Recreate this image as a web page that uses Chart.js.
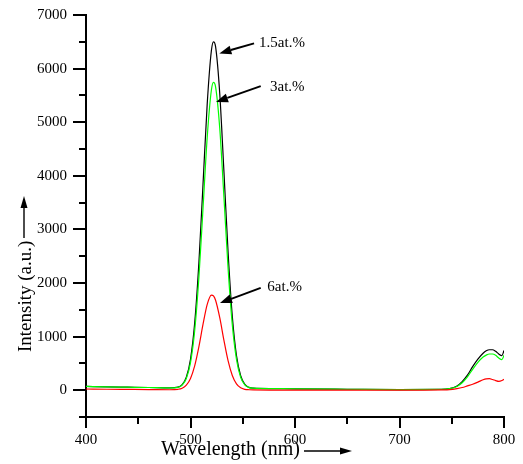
<!DOCTYPE html>
<html>
<head>
<meta charset="utf-8">
<script src="https://cdn.jsdelivr.net/npm/chart.js@4/dist/chart.umd.min.js"></script>
<style>
  html, body { margin: 0; padding: 0; background: #fff; }
  #wrap { width: 523px; height: 464px; position: relative; }
</style>
</head>
<body>
<div id="wrap"><canvas id="c" width="523" height="464"></canvas></div>
<script>
// ---- data ----
const wavelength = [400, 420, 440, 460, 480, 488, 492, 496, 500, 504, 508, 512, 516, 520, 522,
  524, 528, 532, 536, 540, 544, 548, 552, 556, 560, 580, 600, 650, 700, 740,
  748, 755, 760, 765, 770, 775, 780, 783, 786, 789, 792, 795, 798, 800];

const conc15 = [70, 62, 56, 50, 42, 56, 104, 242, 576, 1251, 2367, 3846, 5343, 6337, 6500,
  6410, 5530, 4074, 2560, 1380, 647, 269, 109, 52, 38, 30, 25, 18, 12, 15,
  30, 80, 160, 280, 440, 580, 690, 735, 755, 755, 725, 675, 645, 740];

const conc3 = [70, 62, 56, 50, 42, 54, 96, 218, 513, 1108, 2093, 3399, 4720, 5600, 5742,
  5660, 4884, 3599, 2264, 1223, 575, 241, 100, 49, 38, 30, 25, 18, 12, 15,
  28, 70, 140, 250, 390, 520, 620, 655, 675, 675, 650, 600, 570, 650];

const conc6 = [22, 18, 15, 12, 8, 17, 38, 94, 220, 454, 808, 1231, 1601, 1775, 1760,
  1679, 1352, 930, 546, 275, 118, 45, 16, 8, 5, 3, 2, 0, 0, 5,
  10, 30, 50, 80, 110, 150, 195, 212, 215, 200, 180, 165, 180, 205];

const seriesNames = ['1.5at.%', '3at.%', '6at.%'];
const xTickMin = 400, xTickMax = 800, xStep = 50, xLabelStep = 100;
const yTickMin = -500, yTickMax = 7000, yStep = 500, yLabelStep = 1000;

// annotation anchors (data units): label position, arrow start, arrow tip
const labelAt   = [[565.6, 6482], [576.1, 5659], [573.5, 1919]];
const arrowFrom = [[560.8, 6471], [567.2, 5672], [567.2, 1908]];
const arrowTo   = [[527.6, 6284], [524.4, 5379], [528.2, 1627]];

const xTitle = 'Wavelength (nm)';
const yTitle = 'Intensity (a.u.)';

// ---- chart ----
const SERIF = '"Liberation Serif", "Times New Roman", serif';
const pts = arr => wavelength.map((w, i) => ({ x: w, y: arr[i] }));

function arrow(ctx, x1, y1, x2, y2, head, half, lw) {
  const ang = Math.atan2(y2 - y1, x2 - x1);
  const bx = x2 - head * Math.cos(ang), by = y2 - head * Math.sin(ang);
  ctx.lineWidth = lw;
  ctx.beginPath(); ctx.moveTo(x1, y1); ctx.lineTo(bx, by); ctx.stroke();
  ctx.beginPath();
  ctx.moveTo(x2, y2);
  ctx.lineTo(bx + half * Math.sin(ang), by - half * Math.cos(ang));
  ctx.lineTo(bx - half * Math.sin(ang), by + half * Math.cos(ang));
  ctx.closePath(); ctx.fill();
}

const overlay = {
  id: 'overlay',
  afterDraw(chart) {
    const { ctx, scales: { x, y } } = chart;
    ctx.save();
    ctx.strokeStyle = '#000'; ctx.fillStyle = '#000'; ctx.lineWidth = 2;
    // tick marks
    y.ticks.forEach(t => {
      const py = Math.round(y.getPixelForValue(t.value));
      const len = t.value % yLabelStep === 0 ? 13 : 7;
      ctx.beginPath(); ctx.moveTo(y.right, py); ctx.lineTo(y.right - len, py); ctx.stroke();
    });
    x.ticks.forEach(t => {
      const px = Math.round(x.getPixelForValue(t.value));
      const len = t.value % xLabelStep === 0 ? 11 : 7;
      ctx.beginPath(); ctx.moveTo(px, x.top); ctx.lineTo(px, x.top + len); ctx.stroke();
    });
    // series annotations
    ctx.font = '15px ' + SERIF;
    ctx.textAlign = 'left'; ctx.textBaseline = 'middle';
    seriesNames.forEach((n, i) => {
      const lx = x.getPixelForValue(labelAt[i][0]), ly = y.getPixelForValue(labelAt[i][1]);
      ctx.fillText(n, lx, ly);
      arrow(ctx, x.getPixelForValue(arrowFrom[i][0]), y.getPixelForValue(arrowFrom[i][1]),
                 x.getPixelForValue(arrowTo[i][0]), y.getPixelForValue(arrowTo[i][1]), 12, 4.5, 2);
    });
    // axis titles with arrows
    ctx.font = '20px ' + SERIF;
    ctx.textAlign = 'right'; ctx.textBaseline = 'alphabetic';
    ctx.fillText(xTitle, 300, 455);
    arrow(ctx, 304, 451, 352, 451, 12, 3.5, 1.4);
    ctx.save();
    ctx.translate(31, 352); ctx.rotate(-Math.PI / 2);
    ctx.textAlign = 'left';
    ctx.font = '19px ' + SERIF;
    ctx.fillText(yTitle, 0, 0);
    ctx.restore();
    arrow(ctx, 24, 238, 24, 196, 12, 3.5, 1.4);
    ctx.restore();
  }
};

new Chart(document.getElementById('c'), {
  type: 'line',
  data: {
    datasets: [
      { label: seriesNames[0], data: pts(conc15), borderColor: '#000000', order: 3 },
      { label: seriesNames[1], data: pts(conc3), borderColor: '#00ff00', order: 2 },
      { label: seriesNames[2], data: pts(conc6), borderColor: '#ff0000', order: 1 }
    ]
  },
  options: {
    responsive: false,
    animation: false,
    events: [],
    layout: { padding: { top: 15, right: 19, left: 0, bottom: 0 } },
    elements: {
      line: { borderWidth: 1.2, cubicInterpolationMode: 'monotone', fill: false },
      point: { radius: 0 }
    },
    plugins: { legend: { display: false }, tooltip: { enabled: false } },
    scales: {
      x: {
        type: 'linear', min: xTickMin, max: xTickMax,
        afterFit: s => { s.height = 47; s.paddingLeft = 0; s.paddingRight = 0; },
        grid: { display: false, drawTicks: false },
        border: { display: true, color: '#000', width: 2 },
        ticks: {
          stepSize: xStep, autoSkip: false, maxRotation: 0, padding: 14,
          color: '#000', font: { family: SERIF, size: 15 },
          callback: v => (v % xLabelStep === 0 ? String(v) : '')
        }
      },
      y: {
        type: 'linear', min: yTickMin, max: yTickMax,
        afterFit: s => { s.width = 86; s.paddingTop = 0; s.paddingBottom = 0; },
        grid: { display: false, drawTicks: false },
        border: { display: true, color: '#000', width: 2 },
        ticks: {
          stepSize: yStep, autoSkip: false, padding: 19,
          color: '#000', font: { family: SERIF, size: 15 },
          callback: v => (v % yLabelStep === 0 ? String(v) : '')
        }
      }
    }
  },
  plugins: [overlay]
});
</script>
</body>
</html>
